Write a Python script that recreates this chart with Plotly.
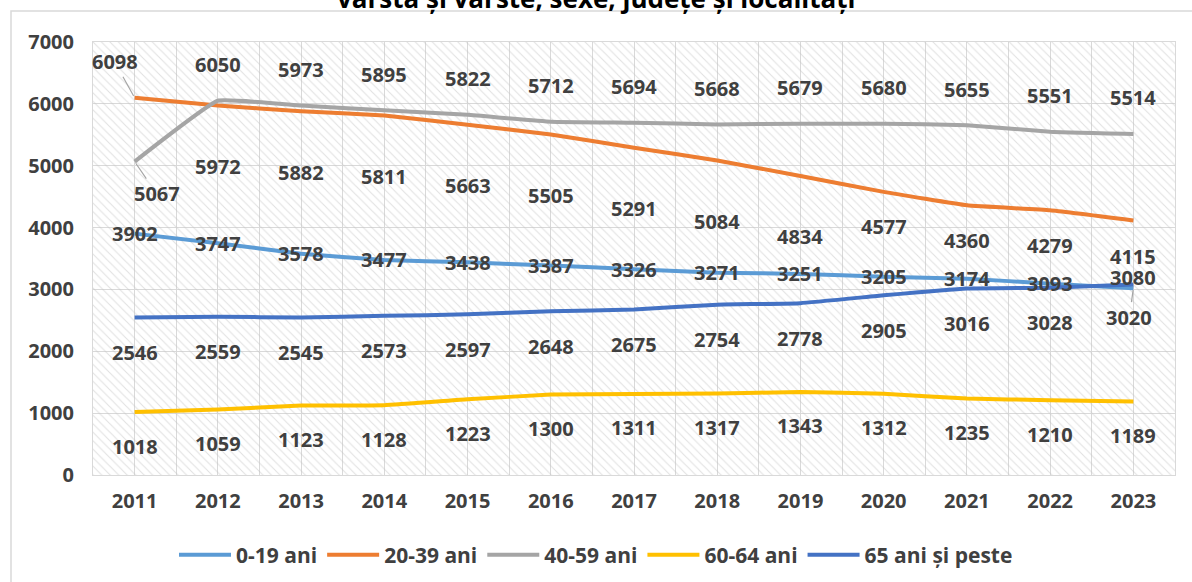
import plotly.graph_objects as go

# ---------------- data ----------------
years = ["2011", "2012", "2013", "2014", "2015", "2016", "2017",
         "2018", "2019", "2020", "2021", "2022", "2023"]
age_0_19 = [3902, 3747, 3578, 3477, 3438, 3387, 3326, 3271, 3251, 3205, 3174, 3093, 3020]
age_20_39 = [6098, 5972, 5882, 5811, 5663, 5505, 5291, 5084, 4834, 4577, 4360, 4279, 4115]
age_40_59 = [5067, 6050, 5973, 5895, 5822, 5712, 5694, 5668, 5679, 5680, 5655, 5551, 5514]
age_60_64 = [1018, 1059, 1123, 1128, 1223, 1300, 1311, 1317, 1343, 1312, 1235, 1210, 1189]
age_65_plus = [2546, 2559, 2545, 2573, 2597, 2648, 2675, 2754, 2778, 2905, 3016, 3028, 3080]
series_names = ["0-19 ani", "20-39 ani", "40-59 ani", "60-64 ani", "65 ani și peste"]
y_max = 7000
title_text = "vârstă și vârste, sexe, județe și localități"

# ---------------- styles ----------------
colors = ["#5B9BD5", "#ED7D31", "#A5A5A5", "#FFC000", "#4472C4"]
series_values = [age_0_19, age_20_39, age_40_59, age_60_64, age_65_plus]
TXT = "#404040"
GRID = "#D9D9D9"
FONT = "Open Sans"
W, H = 1192, 582
ML, MR, MT, MB = 93, 17, 42, 107
PW, PH = W - ML - MR, H - MT - MB

# label placement (pixels): default vertical shift, per-point overrides
label_default = [0, -61, 36, -34, -35]
label_override = [
    {12: ("leader", -4, 29)},
    {0: ("leader", -20, -36), 9: ("shift", -35), 10: ("shift", -35),
     11: ("shift", -35), 12: ("shift", -36)},
    {0: ("leader", 22, 32)},
    {},
    {12: ("shift", 7)},
]

n = len(years)
xs = list(range(n))

fig = go.Figure()

# hatched plot background
fig.add_trace(go.Bar(
    x=[(n - 1) / 2], y=[y_max], width=[n],
    marker=dict(color="rgba(0,0,0,0)", line=dict(width=0),
                pattern=dict(shape="\\", fgcolor="#C4C4C4",
                             bgcolor="rgba(0,0,0,0)", size=6, solidity=0.18)),
    hoverinfo="skip", showlegend=False))

for name, vals, col in zip(series_names, series_values, colors):
    fig.add_trace(go.Scatter(
        x=xs, y=vals, name=name, mode="lines",
        line=dict(color=col, width=4, shape="spline", smoothing=0.3),
    ))

annotations = []
lab_font = dict(family=FONT, size=20, color=TXT, weight="bold")
for s, vals in enumerate(series_values):
    for i, v in enumerate(vals):
        ov = label_override[s].get(i)
        if ov and ov[0] == "leader":
            annotations.append(dict(
                x=i, y=v, text=str(v), showarrow=True, ax=ov[1], ay=ov[2],
                arrowhead=0, arrowwidth=1.2, arrowcolor="#A6A6A6", standoff=2,
                font=lab_font))
        else:
            dy = ov[1] if ov else label_default[s]
            annotations.append(dict(
                x=i, y=v, text=str(v), showarrow=False, yshift=dy,
                font=lab_font))

annotations.append(dict(
    xref="paper", yref="paper", x=(W / 2 - ML) / PW, y=1 + (MT + 2) / PH,
    text=title_text, showarrow=False, xanchor="center", yanchor="middle",
    font=dict(family=FONT, size=26, color="#000000", weight="bold")))

fig.update_layout(
    width=W, height=H,
    margin=dict(l=ML, r=MR, t=MT, b=MB, autoexpand=False),
    paper_bgcolor="white", plot_bgcolor="white",
    font=dict(family=FONT, color=TXT),
    annotations=annotations,
    showlegend=True,
    legend=dict(orientation="h", x=(W / 2 - ML) / PW, xanchor="center",
                y=-80 / PH, yanchor="middle",
                font=dict(family=FONT, size=21, color=TXT, weight="bold"),
                itemwidth=52, tracegroupgap=0),
    shapes=[dict(type="rect", xref="paper", yref="paper",
                 x0=(11 - ML) / PW, x1=1.2, y0=-0.4, y1=1 + (MT - 11) / PH,
                 line=dict(color="#D9D9D9", width=1.5), layer="below")],
)

fig.update_xaxes(
    range=[-0.5, n - 0.5], tickvals=xs, ticktext=years, automargin=False,
    showgrid=True, gridcolor=GRID, gridwidth=1, zeroline=False,
    minor=dict(tickvals=[i - 0.5 for i in range(n + 1)], showgrid=True,
               gridcolor=GRID, gridwidth=1),
    showline=True, linecolor=GRID, mirror=True,
    tickfont=dict(family=FONT, size=20, color=TXT, weight="bold"),
    ticklabelstandoff=8)

fig.update_yaxes(
    range=[0, y_max], dtick=1000, showgrid=True, gridcolor=GRID,
    automargin=False,
    zeroline=False, showline=True, linecolor=GRID, mirror=True,
    tickfont=dict(family=FONT, size=20, color=TXT, weight="bold"),
    ticklabelstandoff=14)

fig.write_html("out.html",
               config={"displayModeBar": False},
               post_script="document.body.style.margin='0';"
                           "document.body.style.overflow='hidden';")
